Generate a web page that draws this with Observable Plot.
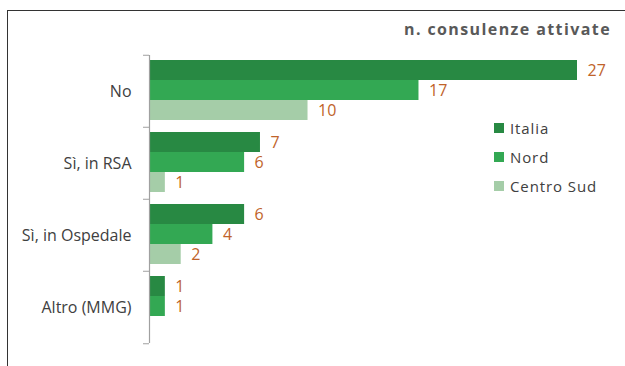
<!DOCTYPE html>
<html><head><meta charset="utf-8">
<script src="https://cdn.jsdelivr.net/npm/d3@7"></script>
<script src="https://cdn.jsdelivr.net/npm/@observablehq/plot@0.6"></script>
<style>
html,body{margin:0;padding:0;background:#fff;}
#wrap{position:relative;width:625px;height:366px;overflow:hidden;background:#fff;font-family:"Open Sans",sans-serif;}
#frame{position:absolute;left:7px;top:10px;width:640px;height:380px;border-top:1.5px solid #333;border-left:1.5px solid #333;}
#title{position:absolute;right:14px;top:18px;font-size:16px;font-weight:700;color:#595959;letter-spacing:1.4px;white-space:nowrap;}
#chart{position:absolute;left:0;top:0;}
#legend{position:absolute;left:494px;top:118px;}
#legend .lg-swatch{padding-bottom:9px !important;font-size:15px;color:#404040;letter-spacing:0.9px;font-family:"Open Sans",sans-serif;}
#legend .lg-swatch svg{margin-right:6px !important;}
</style></head>
<body>
<div id="wrap">
  <div id="frame"></div>
  <div id="chart"></div>
  <div id="title">n. consulenze attivate</div>
  <div id="legend"></div>
</div>
<script>
const categories = ["No", "Sì, in RSA", "Sì, in Ospedale", "Altro (MMG)"];
const series = ["Italia", "Nord", "Centro Sud"];
const italia = [27, 7, 6, 1];
const nord = [17, 6, 4, 1];
const centroSud = [10, 1, 2, null];
const colors = ["#288943", "#33a853", "#a5cda8"];

const values = [italia, nord, centroSud];
const data = [];
categories.forEach((c, i) => {
  series.forEach((s, j) => {
    const v = values[j][i];
    if (v != null) data.push({category: c, series: s, value: v});
  });
});

const marginTop = 54, marginBottom = 22;
const facetH = (366 - marginTop - marginBottom) / categories.length;

const chart = Plot.plot({
  width: 625,
  height: 366,
  marginTop,
  marginBottom,
  marginLeft: 149,
  marginRight: 48,
  style: {fontFamily: "Open Sans, sans-serif", fontSize: "16px", background: "transparent"},
  x: {domain: [0, 27], axis: null},
  y: {domain: series, paddingInner: 0, paddingOuter: 0.226, align: 0.45, axis: null},
  fy: {domain: categories, padding: 0, axis: null},
  color: {domain: series, range: colors},
  marks: [
    Plot.barX(data, {x: "value", y: "series", fy: "category", fill: "series"}),
    Plot.text(data, {x: "value", y: "series", fy: "category", text: d => String(d.value),
      dx: 10, textAnchor: "start", fill: "#c0632a", fontSize: 16, fontWeight: 500,
      style: "letter-spacing:1.5px"}),
    Plot.ruleX([0], {stroke: "#a0a0a0", strokeWidth: 1.2}),
    Plot.axisFy({anchor: "left", tickSize: 0, tickPadding: 18, label: null,
      fontSize: 16, fill: "#404040", style: "letter-spacing:0.5px"}),
    Plot.axisFy({anchor: "left", tickSize: 6, label: null, stroke: "#a0a0a0", fill: "none", dy: -facetH / 2}),
    Plot.axisFy({anchor: "left", tickSize: 6, label: null, stroke: "#a0a0a0", fill: "none", dy: facetH / 2,
      ticks: [categories[categories.length - 1]]})
  ]
});
document.getElementById("chart").appendChild(chart);
document.getElementById("legend").appendChild(
  chart.legend("color", {columns: 1, swatchSize: 10, className: "lg"})
);
</script>
</body></html>
